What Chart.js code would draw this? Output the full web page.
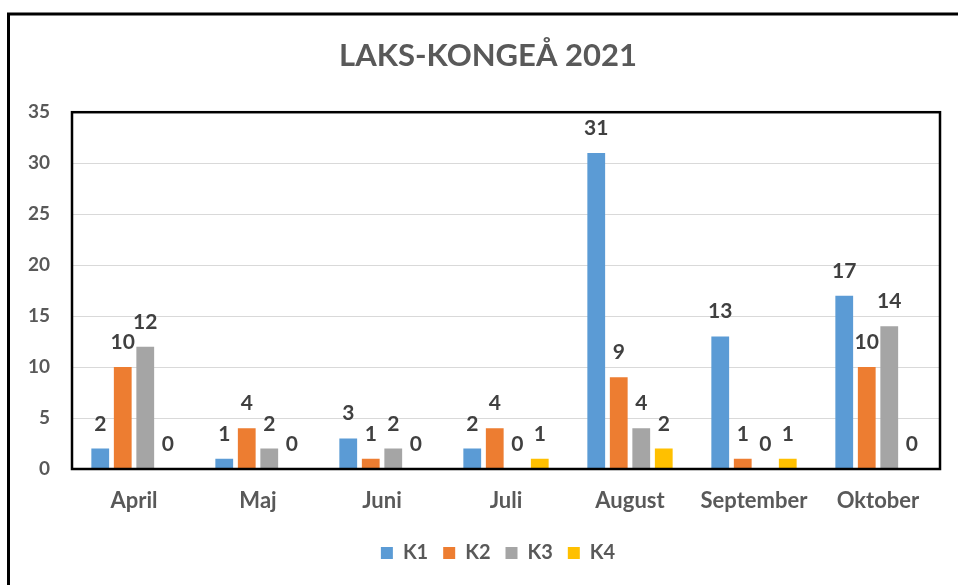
<!DOCTYPE html>
<html>
<head>
<meta charset="utf-8">
<script src="https://cdn.jsdelivr.net/npm/chart.js@4/dist/chart.umd.min.js"></script>
<style>
    body { margin: 0; background: #ffffff; }
    #wrap { width: 958px; height: 585px; }
</style>
</head>
<body>
<div id="wrap"><canvas id="chart_laks" width="958" height="585"></canvas></div>
<script>
// Data
const months = ['April', 'Maj', 'Juni', 'Juli', 'August', 'September', 'Oktober'];
const k1 = [2, 1, 3, 2, 31, 13, 17];
const k2 = [10, 4, 1, 4, 9, 1, 10];
const k3 = [12, 2, 2, 0, 4, 0, 14];
const k4 = [0, 0, 0, 1, 2, 1, 0];
const seriesNames = ['K1', 'K2', 'K3', 'K4'];
const seriesColors = ['#5b9bd5', '#ed7d31', '#a5a5a5', '#ffc000'];

const fontName = 'Lato, "Open Sans", sans-serif';
const gray = '#595959';

// Outer frame + plot box, and shift title/legend a bit right like the original
const framePlugin = {
    id: 'frame',
    afterLayout(chart) {
        chart.titleBlock.left = 36;
        chart.legend.left = 56;
    },
    beforeDraw(chart) {
        const ctx = chart.ctx;
        ctx.save();
        ctx.strokeStyle = '#000';
        ctx.lineWidth = 3;
        ctx.strokeRect(8.5, 14, 980, 600);
        ctx.restore();
    },
    afterDraw(chart) {
        const a = chart.chartArea;
        const ctx = chart.ctx;
        ctx.save();
        ctx.strokeStyle = '#000';
        ctx.lineWidth = 2.5;
        ctx.strokeRect(a.left, a.top, a.right - a.left, a.bottom - a.top);
        ctx.restore();
    }
};

// Value labels above each bar
const valueLabels = {
    id: 'valueLabels',
    afterDatasetsDraw(chart) {
        const ctx = chart.ctx;
        ctx.save();
        ctx.font = 'bold 21px ' + fontName;
        ctx.fillStyle = '#404040';
        ctx.textAlign = 'center';
        ctx.textBaseline = 'alphabetic';
        chart.data.datasets.forEach((ds, i) => {
            chart.getDatasetMeta(i).data.forEach((bar, j) => {
                ctx.fillText(ds.data[j], bar.x, bar.y - 18);
            });
        });
        ctx.restore();
    }
};

let chartLaks = new Chart(
    document.getElementById('chart_laks'),
    {
        type: 'bar',
        data: {
            labels: months,
            datasets: [k1, k2, k3, k4].map((d, i) => ({
                label: seriesNames[i],
                data: d,
                backgroundColor: seriesColors[i],
                borderWidth: 0,
                categoryPercentage: 0.726,
                barPercentage: 0.79,
            })),
        },
        options: {
            responsive: false,
            animation: false,
            layout: {
                padding: { left: 0, right: 18, top: 13, bottom: 12 },
            },
            scales: {
                x: {
                    grid: { display: false, drawTicks: false },
                    border: { display: false },
                    ticks: {
                        color: gray,
                        font: { family: fontName, size: 22, weight: 'bold' },
                        padding: 19,
                        maxRotation: 0,
                    },
                    afterFit(scale) { scale.height = 59; },
                },
                y: {
                    min: 0,
                    max: 35,
                    grid: { color: '#d9d9d9', lineWidth: 1, drawTicks: false },
                    border: { display: false },
                    ticks: {
                        stepSize: 5,
                        color: gray,
                        font: { family: fontName, size: 19, weight: 'bold' },
                        padding: 22,
                    },
                    afterFit(scale) { scale.width = 72; },
                },
            },
            plugins: {
                title: {
                    display: true,
                    text: 'LAKS-KONGEÅ 2021',
                    color: gray,
                    font: { family: fontName, size: 31, weight: 'bold' },
                    padding: { top: 24, bottom: 38 },
                },
                legend: {
                    position: 'bottom',
                    labels: {
                        boxWidth: 12,
                        boxHeight: 12,
                        padding: 15,
                        color: gray,
                        font: { family: fontName, size: 20, weight: 'bold' },
                    },
                },
                tooltip: { enabled: false },
            },
        },
        plugins: [framePlugin, valueLabels],
    }
);
</script>
</body>
</html>
